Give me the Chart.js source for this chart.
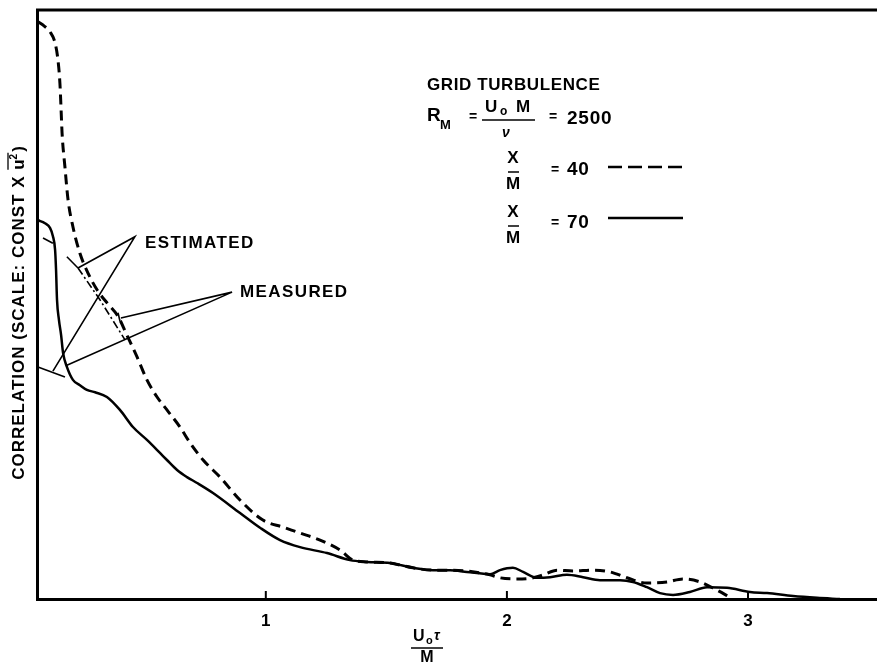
<!DOCTYPE html>
<html><head><meta charset="utf-8">
<script src="https://cdn.jsdelivr.net/npm/chart.js@4/dist/chart.umd.min.js"></script>
<style>html,body{margin:0;padding:0;background:#fff;}#wrap{width:877px;height:665px;}</style>
</head><body><div id="wrap"><canvas id="c" width="877" height="665"></canvas></div>
<script>
// ---- data (x = U0*tau/M, y = correlation, arbitrary scale 0..100) ----
const xTicks = [1, 2, 3];
const x40 = [0.055,0.080,0.105,0.126,0.138,0.146,0.151,0.155,0.167,0.180,0.200,0.229,0.263,0.300,0.345,0.387,0.424,0.466,0.507,0.549,0.590,0.644,0.686,0.740,0.810,0.893,0.988,1.071,1.142,1.225,1.308,1.362,1.420,1.515,1.610,1.693,1.764,1.834,1.930,1.971,2.042,2.108,2.150,2.208,2.274,2.357,2.428,2.498,2.581,2.664,2.730,2.801,2.871,2.925];
const y40 = [98.0,97.3,96.3,94.4,91.5,87.6,83.0,79.1,73.3,67.7,63.2,58.7,55.3,52.5,50.1,48.0,44.8,41.1,37.2,34.3,32.1,29.2,26.5,23.6,20.7,16.8,13.4,12.2,11.2,10.0,8.3,6.6,6.3,6.1,5.3,4.9,4.9,4.75,4.1,3.6,3.4,3.6,4.1,4.9,4.75,4.9,4.6,3.6,2.7,2.9,3.4,2.9,1.5,0.3];
const x70 = [0.055,0.084,0.105,0.117,0.126,0.130,0.134,0.142,0.151,0.159,0.175,0.200,0.229,0.258,0.292,0.341,0.395,0.449,0.507,0.561,0.590,0.632,0.673,0.715,0.781,0.893,0.976,1.059,1.142,1.254,1.349,1.420,1.515,1.610,1.693,1.764,1.834,1.930,1.971,2.025,2.067,2.125,2.179,2.249,2.316,2.386,2.469,2.523,2.581,2.635,2.689,2.759,2.830,2.913,3.008,3.079,3.187,3.286,3.381];
const y70 = [64.3,63.8,63.0,61.6,59.3,55.9,50.8,47.4,44.8,41.8,39.4,37.2,36.3,35.5,35.1,34.3,32.1,29.2,27.0,24.8,23.6,21.9,20.7,19.7,18.0,14.6,12.1,10.0,8.8,7.8,6.6,6.3,6.1,5.3,4.9,4.9,4.6,4.2,4.9,5.3,4.6,3.6,3.7,4.1,3.7,3.2,3.2,2.9,2.0,1.0,0.7,1.2,2.0,1.9,1.2,1.0,0.5,0.2,0];
// estimated extrapolations and leader lines (data units)
const estSolidTickX = [0.076, 0.117], estSolidTickY = [61.3, 60.4];
const estSolidX = [0.055, 0.167], estSolidY = [39.4, 37.7];
const estDashCornerX = [0.175, 0.221], estDashCornerY = [58.1, 56.2];
const estDashLineX = [0.221, 0.312, 0.416], estDashLineY = [56.2, 50.8, 44.0];
const leaderEstX = [0.221, 0.457, 0.117], leaderEstY = [56.2, 61.5, 38.7];
const leaderMeasX = [0.399, 0.860, 0.175], leaderMeasY = [47.7, 52.1, 39.7];
const measTickX = [0.387, 0.395], measTickY = [48.6, 47.2];
const labelEst = {text: 'ESTIMATED', x: 0.499, y: 60.4};
const labelMeas = {text: 'MEASURED', x: 0.893, y: 52.1};

const pts = (xs, ys) => xs.map((x, i) => ({x, y: ys[i]}));
const thin = (xs, ys, dash) => ({data: pts(xs, ys), borderColor: '#000', borderWidth: 1.6, pointRadius: 0, showLine: true, fill: false, tension: 0, borderDash: dash || []});

const F = "'Liberation Sans', Arial, sans-serif";
function txt(ctx, s, x, y, font, align, spacing) {
  ctx.font = font; ctx.textAlign = align || 'left'; ctx.textBaseline = 'middle';
  ctx.letterSpacing = (spacing || 0) + 'px';
  ctx.fillText(s, x, y);
  ctx.letterSpacing = '0px';
}
function hline(ctx, x1, x2, y, w, dash) {
  ctx.save(); ctx.beginPath(); ctx.lineWidth = w; ctx.setLineDash(dash || []);
  ctx.moveTo(x1, y); ctx.lineTo(x2, y); ctx.stroke(); ctx.restore();
}

const decor = {
  id: 'decor',
  afterDraw(chart) {
    const ctx = chart.ctx, a = chart.chartArea, xs = chart.scales.x, ys = chart.scales.y;
    ctx.save();
    ctx.fillStyle = '#000'; ctx.strokeStyle = '#000';
    // top frame line
    hline(ctx, a.left - 1, chart.width, a.top, 3);
    // inward tick marks
    ctx.lineWidth = 2;
    xTicks.forEach(v => { const p = xs.getPixelForValue(v); ctx.beginPath(); ctx.moveTo(p, a.bottom); ctx.lineTo(p, a.bottom - 8); ctx.stroke(); });
    // annotations
    txt(ctx, labelEst.text, xs.getPixelForValue(labelEst.x), ys.getPixelForValue(labelEst.y), 'bold 17px ' + F, 'left', 1.4);
    txt(ctx, labelMeas.text, xs.getPixelForValue(labelMeas.x), ys.getPixelForValue(labelMeas.y), 'bold 17px ' + F, 'left', 1.4);
    // legend block
    txt(ctx, 'GRID TURBULENCE', 427, 85, 'bold 17px ' + F, 'left', 0.6);
    txt(ctx, 'R', 427, 116, 'bold 19px ' + F);
    txt(ctx, 'M', 440, 125, 'bold 13px ' + F);
    txt(ctx, '=', 473, 117, 'bold 14px ' + F, 'center');
    txt(ctx, 'U', 485, 107, 'bold 17px ' + F);
    txt(ctx, 'o', 500, 112, 'bold 12px ' + F);
    txt(ctx, 'M', 516, 107, 'bold 17px ' + F);
    hline(ctx, 482, 535, 120, 1.5);
    txt(ctx, 'ν', 506, 133, 'bold italic 14px ' + F, 'center');
    txt(ctx, '=', 553, 117, 'bold 14px ' + F, 'center');
    txt(ctx, '2500', 567, 119, 'bold 19px ' + F, 'left', 0.8);
    [[158, 172, 184, 170, '40', 167, [14, 6]], [212, 226, 238, 223, '70', 218, []]].forEach(r => {
      txt(ctx, 'X', 513, r[0], 'bold 17px ' + F, 'center');
      hline(ctx, 508, 519, r[1], 1.5);
      txt(ctx, 'M', 513, r[2], 'bold 17px ' + F, 'center');
      txt(ctx, '=', 555, r[3], 'bold 14px ' + F, 'center');
      txt(ctx, r[4], 567, r[3], 'bold 19px ' + F, 'left', 0.8);
      hline(ctx, 608, 683, r[5], 2.5, r[6]);
    });
    // x-axis title (fraction)
    txt(ctx, 'U', 413, 637, 'bold 16px ' + F);
    txt(ctx, 'o', 426, 641, 'bold 11px ' + F);
    txt(ctx, 'τ', 434, 636, 'bold italic 14px ' + F);
    hline(ctx, 411, 443, 648, 1.5);
    txt(ctx, 'M', 427, 658, 'bold 16px ' + F, 'center');
    // y-axis title (rotated)
    ctx.save();
    ctx.translate(19, (a.top + a.bottom) / 2 + 8);
    ctx.rotate(-Math.PI / 2);
    ctx.font = 'bold 17px ' + F; ctx.letterSpacing = '1px';
    const s1 = 'CORRELATION (SCALE: CONST X ';
    const w1 = ctx.measureText(s1).width;
    const wu = ctx.measureText('u').width;
    ctx.font = 'bold 10px ' + F; const w2 = ctx.measureText('2').width;
    ctx.font = 'bold 17px ' + F; const w3 = ctx.measureText(')').width;
    const total = w1 + wu + w2 + w3;
    let x0 = -total / 2;
    ctx.textBaseline = 'middle'; ctx.textAlign = 'left';
    ctx.fillText(s1, x0, 0);
    ctx.fillText('u', x0 + w1, 0);
    ctx.font = 'bold 10px ' + F; ctx.fillText('2', x0 + w1 + wu - 1, -5);
    ctx.font = 'bold 17px ' + F; ctx.fillText(')', x0 + w1 + wu + w2, 0);
    ctx.letterSpacing = '0px';
    ctx.lineWidth = 1.3; ctx.beginPath(); ctx.moveTo(x0 + w1, -11); ctx.lineTo(x0 + w1 + wu + w2 - 1, -11); ctx.stroke();
    ctx.restore();
    ctx.restore();
  }
};

new Chart(document.getElementById('c'), {
  type: 'scatter',
  data: {
    datasets: [
      {label: 'X/M = 40', data: pts(x40, y40), borderColor: '#000', borderWidth: 3, borderDash: [10, 6], pointRadius: 0, showLine: true, fill: false, cubicInterpolationMode: 'monotone'},
      {label: 'X/M = 70', data: pts(x70, y70), borderColor: '#000', borderWidth: 2.5, pointRadius: 0, showLine: true, fill: false, cubicInterpolationMode: 'monotone'},
      thin(estSolidTickX, estSolidTickY),
      thin(estSolidX, estSolidY),
      thin(estDashCornerX, estDashCornerY),
      thin(estDashLineX, estDashLineY, [8, 3, 2, 3]),
      thin(leaderEstX, leaderEstY),
      thin(leaderMeasX, leaderMeasY),
      thin(measTickX, measTickY)
    ]
  },
  options: {
    responsive: false, animation: false, devicePixelRatio: 1,
    layout: {padding: {left: 37, top: 10, right: 0, bottom: 0}},
    plugins: {legend: {display: false}, tooltip: {enabled: false}},
    scales: {
      x: {
        type: 'linear', min: 0.051, max: 3.535,
        afterBuildTicks: s => { s.ticks = xTicks.map(v => ({value: v})); },
        afterFit: s => { s.height = 66; },
        ticks: {color: '#000', font: {family: F, size: 17, weight: 'bold'}, padding: 12, maxRotation: 0},
        grid: {display: true, drawOnChartArea: false, drawTicks: false},
        border: {display: true, color: '#000', width: 3}
      },
      y: {
        type: 'linear', min: 0, max: 100,
        afterFit: s => { s.width = 0; },
        ticks: {display: false},
        grid: {display: true, drawOnChartArea: false, drawTicks: false},
        border: {display: true, color: '#000', width: 3}
      }
    }
  },
  plugins: [decor]
});
</script></body></html>
